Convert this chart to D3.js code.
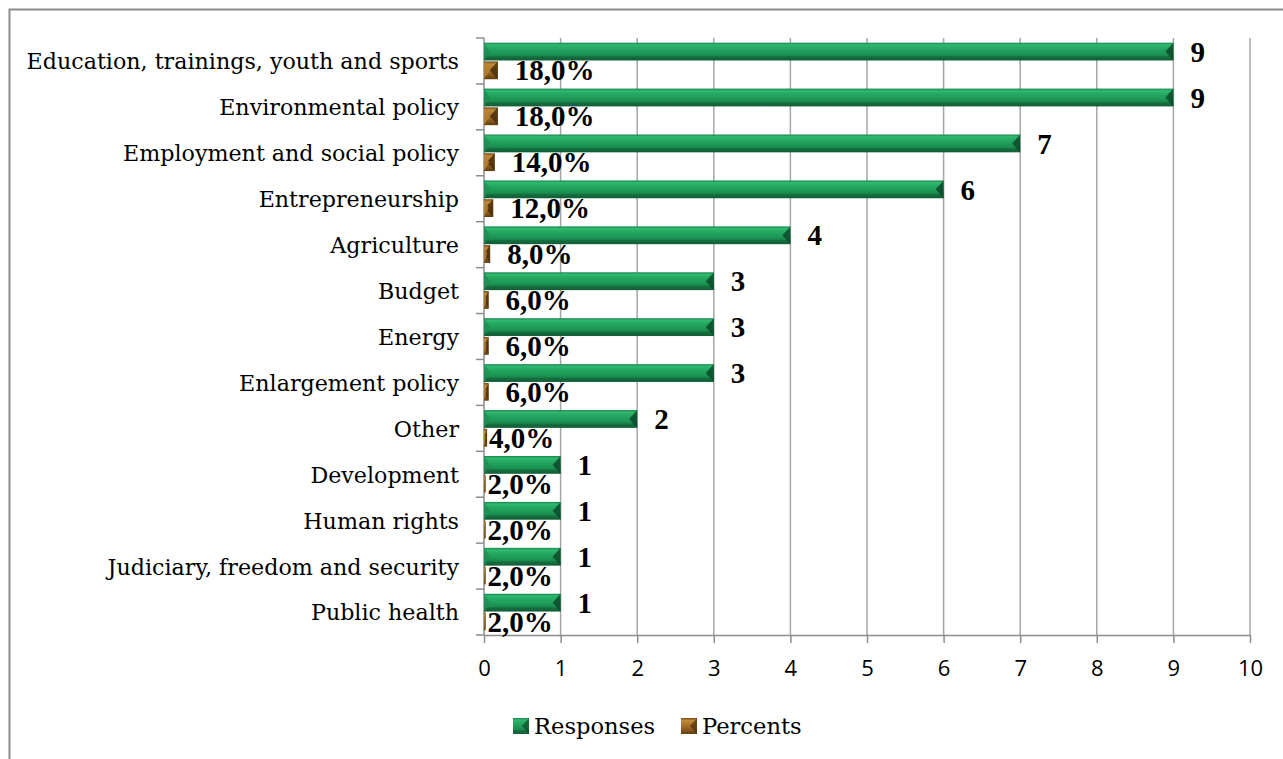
<!DOCTYPE html>
<html>
<head>
<meta charset="utf-8">
<script src="https://cdn.jsdelivr.net/npm/d3@7"></script>
<style>
  html, body { margin: 0; padding: 0; background: #ffffff; }
  svg { display: block; }
</style>
</head>
<body>
<svg id="chart" width="1283" height="759"></svg>
<script>
// Policy areas, top to bottom
const categories = [
  "Education, trainings, youth and sports",
  "Environmental policy",
  "Employment and social policy",
  "Entrepreneurship",
  "Agriculture",
  "Budget",
  "Energy",
  "Enlargement policy",
  "Other",
  "Development",
  "Human rights",
  "Judiciary, freedom and security",
  "Public health"
];
// Number of responses per area
const responses = [9, 9, 7, 6, 4, 3, 3, 3, 2, 1, 1, 1, 1];
// Share of all responses (fraction)
const percents = [0.18, 0.18, 0.14, 0.12, 0.08, 0.06, 0.06, 0.06, 0.04, 0.02, 0.02, 0.02, 0.02];
const seriesNames = ["Responses", "Percents"];
const xTicks = [0, 1, 2, 3, 4, 5, 6, 7, 8, 9, 10];

const svg = d3.select("#chart");
const W = 1283, H = 759;
const plot = { left: 484, right: 1250, top: 38, bottom: 635 };

const serif = "'DejaVu Serif', 'Liberation Serif', serif";
const boldSerif = "'Liberation Serif', 'Times New Roman', serif";
const sans = "'Open Sans', 'Liberation Sans', sans-serif";

// Gradients giving the bars their bevelled look
const defs = svg.append("defs");
function barGradient(id, stops) {
  const g = defs.append("linearGradient").attr("id", id)
    .attr("x1", 0).attr("y1", 0).attr("x2", 0).attr("y2", 1);
  stops.forEach(([o, c]) => g.append("stop").attr("offset", o).attr("stop-color", c));
}
barGradient("gGreen", [[0, "#17824a"], [0.12, "#2fba70"], [0.3, "#26a862"], [0.55, "#1e9a58"], [0.72, "#1a8a4e"], [0.8, "#156c3e"], [1, "#125e36"]]);
barGradient("gBrown", [[0, "#6e4716"], [0.15, "#c18a3a"], [0.45, "#a8722a"], [0.75, "#87581c"], [1, "#5e3c10"]]);
const seriesFill = { Responses: "url(#gGreen)", Percents: "url(#gBrown)" };
const seriesCap = { Responses: "#0c4a29", Percents: "#4a2e0a" };

// Chart frame
svg.append("rect")
  .attr("x", 9.5).attr("y", 9.5)
  .attr("width", W + 20).attr("height", H + 20)
  .attr("fill", "none").attr("stroke", "#8c8c8c").attr("stroke-width", 2);

// Scales
const x = d3.scaleLinear().domain([0, 10]).range([plot.left, plot.right]);
const y = d3.scaleBand().domain(categories).range([plot.top, plot.bottom]).padding(0);
const ySub = d3.scaleBand().domain(seriesNames).range([0, y.bandwidth()])
  .paddingInner(0.05).paddingOuter(0.25);

// Vertical gridlines
svg.append("g").selectAll("line")
  .data(xTicks.filter(t => t > 0))
  .join("line")
  .attr("x1", d => x(d)).attr("x2", d => x(d))
  .attr("y1", plot.top).attr("y2", plot.bottom)
  .attr("stroke", "#a6a6a6").attr("stroke-width", 1.5);

// X axis
const xAxis = svg.append("g")
  .attr("transform", `translate(0,${plot.bottom})`)
  .call(d3.axisBottom(x).tickValues(xTicks).tickSize(8).tickSizeOuter(0).tickPadding(17).tickFormat(d3.format("d")));
xAxis.select(".domain").attr("stroke", "#8c8c8c").attr("stroke-width", 1.5);
xAxis.selectAll(".tick line").attr("stroke", "#8c8c8c").attr("stroke-width", 1.5);
xAxis.selectAll(".tick text")
  .attr("font-family", sans).attr("font-size", 22).attr("fill", "#000");

// Y axis with category labels
const yAxis = svg.append("g")
  .attr("transform", `translate(${plot.left},0)`)
  .call(d3.axisLeft(y).tickSize(0).tickPadding(25));
yAxis.select(".domain").remove();
yAxis.selectAll(".tick text")
  .attr("font-family", serif).attr("font-size", 22.2).attr("fill", "#000")
  .attr("dy", "0.38em");
// Axis line and the tick marks between categories
const bounds = categories.map(c => y(c)).concat([plot.bottom]);
svg.append("line")
  .attr("x1", plot.left).attr("x2", plot.left)
  .attr("y1", plot.top).attr("y2", plot.bottom)
  .attr("stroke", "#8c8c8c").attr("stroke-width", 1.5);
svg.append("g").selectAll("line").data(bounds).join("line")
  .attr("x1", plot.left - 8).attr("x2", plot.left)
  .attr("y1", d => d).attr("y2", d => d)
  .attr("stroke", "#8c8c8c").attr("stroke-width", 1.5);

// Bars
const rows = categories.map((c, i) => ({ c, Responses: responses[i], Percents: percents[i] }));
const barG = svg.append("g");
seriesNames.forEach(s => {
  const g = barG.append("g");
  rows.forEach(r => {
    const x0 = x(0), x1 = x(r[s]);
    const top = y(r.c) + ySub(s), h = ySub.bandwidth();
    const w = x1 - x0;
    g.append("rect")
      .attr("x", x0).attr("y", top).attr("width", w).attr("height", h)
      .attr("fill", seriesFill[s]);
    // bevelled end cap on the right
    const cap = Math.min(h * 0.45, w);
    g.append("path")
      .attr("d", `M${x1 - cap},${top + h * 0.5} L${x1},${top} L${x1},${top + h} Z`)
      .attr("fill", seriesCap[s]).attr("opacity", 0.85);
    // bevel on the left
    const capL = Math.min(h * 0.35, w * 0.5);
    g.append("path")
      .attr("d", `M${x0},${top} L${x0 + capL},${top + h * 0.5} L${x0},${top + h} Z`)
      .attr("fill", s === "Responses" ? "#1d8f52" : "#b88234").attr("opacity", 0.8);
  });
});

// Value labels
const labelG = svg.append("g")
  .attr("font-family", boldSerif).attr("font-weight", "bold").attr("font-size", 29).attr("fill", "#000");
const pctFmt = v => (v * 100).toFixed(1).replace(".", ",") + "%";
rows.forEach(r => {
  labelG.append("text")
    .attr("x", x(r.Responses) + 17)
    .attr("y", y(r.c) + ySub("Responses") + ySub.bandwidth() / 2)
    .attr("dy", "0.35em")
    .text(r.Responses);
  // labels of very short bars sit right at the bar
  const off = r.Percents >= 0.05 ? 17 : 2;
  labelG.append("text")
    .attr("x", x(r.Percents) + off)
    .attr("y", y(r.c) + ySub("Percents") + ySub.bandwidth() / 2)
    .attr("dy", "0.35em")
    .text(pctFmt(r.Percents));
});

// Legend
const legend = svg.append("g").attr("transform", "translate(513,726)");
const legendX = [0, 168];
seriesNames.forEach((s, i) => {
  const g = legend.append("g").attr("transform", `translate(${legendX[i]},0)`);
  g.append("rect").attr("x", 0).attr("y", -8).attr("width", 16).attr("height", 16)
    .attr("fill", seriesFill[s]);
  g.append("path").attr("d", "M16,-8 L9,0 L16,8 Z").attr("fill", seriesCap[s]).attr("opacity", 0.7);
  g.append("text").attr("x", 21).attr("y", 0).attr("dy", "0.35em")
    .attr("font-family", serif).attr("font-size", 22.6).attr("fill", "#000")
    .text(s);
});
</script>
</body>
</html>
